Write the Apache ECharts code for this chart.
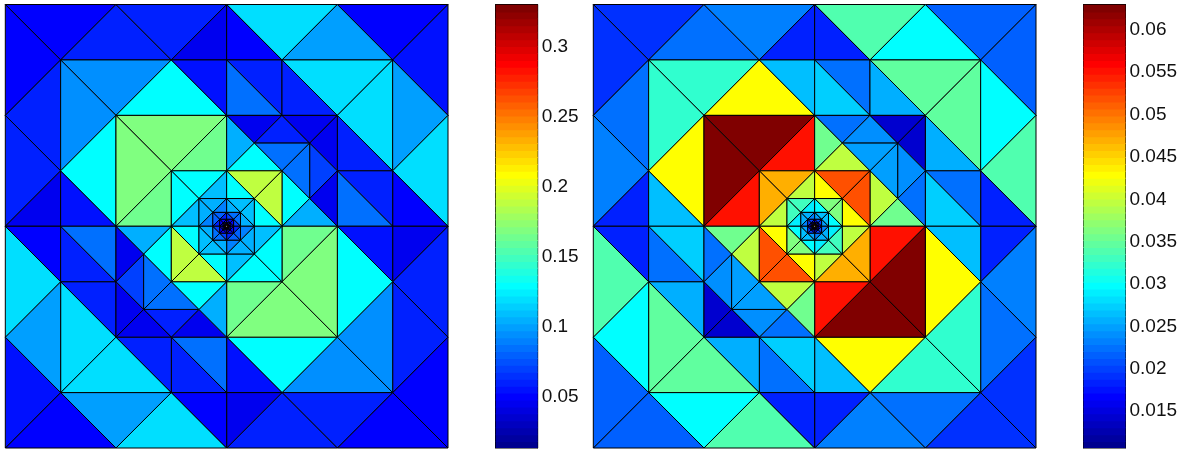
<!DOCTYPE html>
<html><head><meta charset="utf-8">
<style>html,body{margin:0;padding:0;background:#fff}#c{width:1187px;height:450px}</style>
<script src="https://cdn.jsdelivr.net/npm/echarts@6/dist/echarts.min.js"></script>
</head><body><div id="c"></div>
<script>
// Mesh, upper half plane, in data units (domain -4..4). The lower half is its point reflection.
const upperTriangles = [
[-4,4,-2,4,-3,3],[-4,4,-3,3,-4,2],[-2,4,-3,3,-1,3],[-2,4,0,4,-1,3],[-1,3,0,4,0,3],[-3,3,-4,2,-3,1],
[-4,2,-3,1,-4,0],[-4,0,-3,1,-3,0],[-3,1,-3,0,-2,0],[-3,3,-1,3,-2,2],[-3,3,-3,1,-2,2],[-1,3,-2,2,0,2],
[-1,3,0,3,0,2],[-3,1,-2,2,-2,0],[-2,2,0,2,-1,1],[-2,2,-2,0,-1,1],[0,2,-1,1,0,1],[-2,0,-1,1,-1,0],
[0,4,2,4,1,3],[2,4,4,4,3,3],[4,4,4,2,3,3],[2,4,1,3,3,3],[0,4,0,3,1,3],[1,3,3,3,2,2],[3,3,3,1,2,2],
[3,3,4,2,3,1],[4,2,3,1,4,0],[3,1,3,0,4,0],[0,3,1,3,1,2],[0,3,0,2,1,2],[1,3,1,2,2,2],[2,2,3,1,2,1],
[2,1,3,1,3,0],[2,1,2,0,3,0],[0,2,1,2,0.5,1.5],[1,2,0.5,1.5,1.5,1.5],[1,2,2,2,1.5,1.5],[2,2,2,1,1.5,1.5],
[2,1,1.5,1.5,1.5,0.5],[2,1,2,0,1.5,0.5],[0,2,0.5,1.5,0,1],[0.5,1.5,1.5,1.5,1,1],[1.5,1.5,1.5,0.5,1,1],
[0,1,0.5,1.5,1,1],[1,1,1.5,0.5,1,0],[1.5,0.5,2,0,1,0]
];
const leftUpper = [
.0507,.0507,.0606,.0606,.0458,.0606,.0606,.0458,.0557,.0953,.0953,.1299,.0557,.1299,.1695,.1695,.1646,.1646,
.12,.0507,.0557,.1002,.0507,.12,.12,.1002,.12,.0507,.0606,.0854,.0606,.0606,.0606,.0854,.0458,.0606,.0458,.0458,
.0705,.0458,.1052,.0854,.0854,.1299,.1299,.1052
];
const rightUpper = [
.0192,.0192,.0225,.0233,.0184,.0225,.0233,.0184,.0266,.0323,.0323,.0430,.0266,.0430,.0626,.0626,.0552,.0552,
.0340,.0217,.0217,.0299,.0184,.0348,.0348,.0299,.0340,.0184,.0225,.0274,.0258,.0258,.0225,.0274,.0225,.0241,.0143,.0143,
.0241,.0225,.0356,.0250,.0250,.0397,.0397,.0356
];
// Graded rings towards the origin: half-size of each ring
const ringScales = [1,0.5,0.25,0.125,0.0625,0.03125];
// each row: upper-left corner, upper-left flank, upper-right corner, upper-right flank
const leftRings = [[.1299,.1101,.1893,.1299],[.1052,.0903,.1101,.1052],[.0804,.0606,.0854,.0705],[.0507,.0507,.0507,.0507],[.0309,.0309,.0309,.0309],[.29,.29,.29,.29]];
const rightRings = [[.0470,.0397,.0520,.0430],[.0331,.0291,.0364,.0299],[.0258,.0233,.0266,.0250],[.0201,.0168,.0201,.0168],[.0135,.0135,.0135,.0135],[.05,.05,.05,.05]];
const leftRange = [0.0136,0.3304];
const rightRange = [0.01064,0.06299];
const leftTicks = [0.05,0.1,0.15,0.2,0.25,0.3];
const rightTicks = [0.015,0.02,0.025,0.03,0.035,0.04,0.045,0.05,0.055,0.06];
const levels = 64;

function jet(i){ // i = 1..64, MATLAB jet(64)
  const c=t=>Math.round(255*Math.max(0,Math.min(1,t)));
  const x=i/16;
  const r=Math.min(x-1.5,4.5-x), g=Math.min(x-0.5,3.5-x), b=Math.min(x+0.5,2.5-x);
  return 'rgb('+c(r)+','+c(g)+','+c(b)+')';
}
function pieces(range){
  const w=(range[1]-range[0])/levels, out=[];
  for(let i=1;i<=levels;i++) out.push({min:range[0]+(i-1)*w-(i==1?1:0),max:range[0]+i*w+(i==levels?1:0),color:jet(i)});
  return out;
}
function meshData(upper,rings){
  const half=upperTriangles.map((t,i)=>[upper[i]].concat(t));
  ringScales.forEach((s,k)=>{
    const m=s/2, r=rings[k];
    half.push([r[0],-s,s,0,s,-m,m],[r[0],-s,s,-s,0,-m,m],[r[1],0,s,0,m,-m,m],[r[1],-s,0,-m,0,-m,m]);
    half.push([r[2],s,s,0,s,m,m],[r[2],s,s,s,0,m,m],[r[3],0,s,0,m,m,m],[r[3],s,0,m,0,m,m]);
  });
  return half.concat(half.map(t=>[t[0],-t[1],-t[2],-t[3],-t[4],-t[5],-t[6]]));
}
function barData(range){
  const w=(range[1]-range[0])/levels,out=[];
  for(let i=0;i<levels;i++) out.push([range[0]+(i+.5)*w,range[0]+i*w,range[0]+(i+1)*w]);
  return out;
}
function renderTri(p,api){
  const a=api.coord([api.value(1),api.value(2)]),b=api.coord([api.value(3),api.value(4)]),c=api.coord([api.value(5),api.value(6)]);
  return {type:'polygon',shape:{points:[a,b,c]},style:{fill:api.visual('color'),stroke:'#000',lineWidth:1,lineJoin:'round'}};
}
function renderBand(p,api){
  const a=api.coord([0,api.value(2)]),b=api.coord([1,api.value(1)]);
  return {type:'rect',shape:{x:a[0],y:a[1],width:b[0]-a[0],height:b[1]-a[1]+1},style:{fill:api.visual('color')}};
}
const meshAxis=(i)=>({gridIndex:i,type:'value',min:-4,max:4,show:false});
function barY(g,range,ticks,pos,labels){
  return {gridIndex:g,type:'value',position:pos,min:range[0],max:range[1],splitLine:{show:false},
    axisLine:{show:true,onZero:false,lineStyle:{color:'#000',width:1}},
    axisTick:{show:true,inside:true,length:4,customValues:ticks,lineStyle:{color:'#000',width:1,opacity:.75}},
    axisLabel:{show:labels,customValues:ticks,margin:4,color:'#111',fontFamily:'Liberation Sans',fontSize:19,padding:[2,0,0,0],formatter:v=>String(v),showMinLabel:true,showMaxLabel:true}};
}
const T=4.5,H=443.5;
const chart=echarts.init(document.getElementById('c'),null,{renderer:'canvas'});
chart.setOption({
  animation:false,backgroundColor:'#fff',
  grid:[
    {left:5.3,top:T,width:442.7,height:H},
    {left:593.3,top:T,width:442.7,height:H},
    {left:495.7,top:T,width:42,height:H,show:true,borderColor:'#000',borderWidth:1,backgroundColor:'transparent'},
    {left:1083.5,top:T,width:42,height:H,show:true,borderColor:'#000',borderWidth:1,backgroundColor:'transparent'}
  ],
  xAxis:[meshAxis(0),meshAxis(1),
    {gridIndex:2,type:'value',min:0,max:1,show:false},{gridIndex:3,type:'value',min:0,max:1,show:false}],
  yAxis:[meshAxis(0),meshAxis(1),
    barY(2,leftRange,leftTicks,'left',false),barY(2,leftRange,leftTicks,'right',true),
    barY(3,rightRange,rightTicks,'left',false),barY(3,rightRange,rightTicks,'right',true)],
  visualMap:[
    {type:'piecewise',show:false,dimension:0,seriesIndex:[0,2],pieces:pieces(leftRange)},
    {type:'piecewise',show:false,dimension:0,seriesIndex:[1,3],pieces:pieces(rightRange)}
  ],
  series:[
    {type:'custom',xAxisIndex:0,yAxisIndex:0,renderItem:renderTri,data:meshData(leftUpper,leftRings),clip:false,silent:true,encode:{x:1,y:2}},
    {type:'custom',xAxisIndex:1,yAxisIndex:1,renderItem:renderTri,data:meshData(rightUpper,rightRings),clip:false,silent:true,encode:{x:1,y:2}},
    {type:'custom',xAxisIndex:2,yAxisIndex:3,renderItem:renderBand,data:barData(leftRange),clip:true,silent:true,encode:{y:1}},
    {type:'custom',xAxisIndex:3,yAxisIndex:5,renderItem:renderBand,data:barData(rightRange),clip:true,silent:true,encode:{y:1}}
  ]
});
</script></body></html>
